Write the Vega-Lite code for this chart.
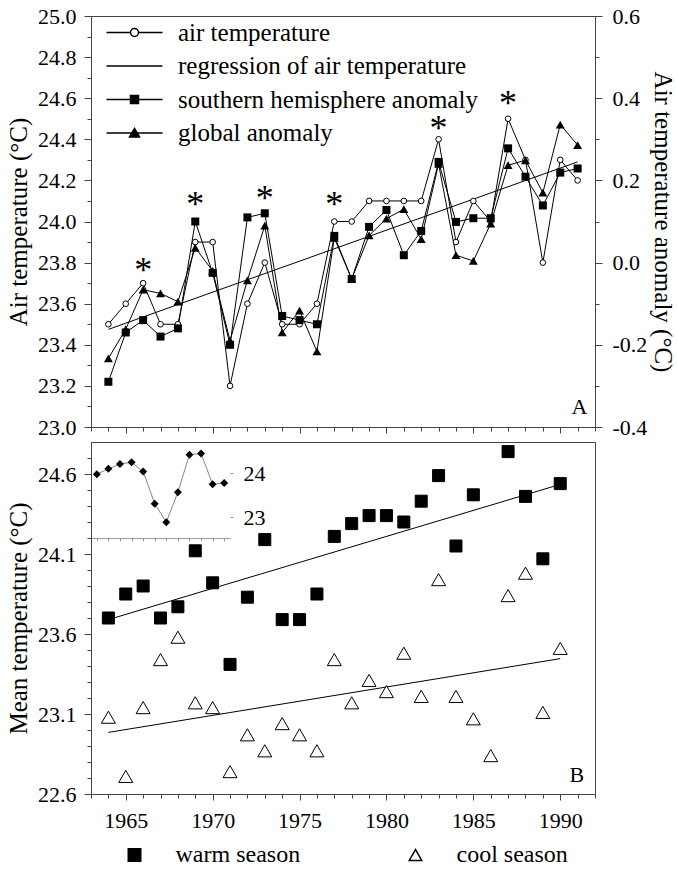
{
  "$schema": "https://vega.github.io/schema/vega-lite/v6.json",
  "background": "white",
  "padding": {"left": 6, "top": 4, "right": 0, "bottom": 4},
  "config": {
    "font": "Liberation Serif",
    "view": {"stroke": "#444", "strokeWidth": 1},
    "axis": {
      "labelFont": "Liberation Serif", "labelFontSize": 22, "labelColor": "black",
      "titleFont": "Liberation Serif", "titleFontSize": 25, "titleFontWeight": "normal", "titleColor": "black",
      "tickColor": "#444", "domainColor": "#444", "grid": false, "tickWidth": 1, "domainWidth": 1,
      "labelFlush": false, "labelOverlap": false
    },
    "legend": {"labelFont": "Liberation Serif", "labelColor": "black", "labelLimit": 400}
  },
  "datasets": {
    "top": [
      {"year": 1964, "air": 23.5, "sh": -0.29, "gl": -0.233},
      {"year": 1965, "air": 23.6, "sh": -0.17, "gl": -0.162},
      {"year": 1966, "air": 23.7, "sh": -0.14, "gl": -0.066},
      {"year": 1967, "air": 23.5, "sh": -0.18, "gl": -0.075},
      {"year": 1968, "air": 23.5, "sh": -0.16, "gl": -0.095},
      {"year": 1969, "air": 23.9, "sh": 0.10, "gl": 0.036},
      {"year": 1970, "air": 23.9, "sh": -0.025, "gl": -0.02},
      {"year": 1971, "air": 23.2, "sh": -0.20, "gl": -0.19},
      {"year": 1972, "air": 23.6, "sh": 0.11, "gl": -0.043},
      {"year": 1973, "air": 23.8, "sh": 0.12, "gl": 0.09},
      {"year": 1974, "air": 23.5, "sh": -0.13, "gl": -0.17},
      {"year": 1975, "air": 23.5, "sh": -0.14, "gl": -0.117},
      {"year": 1976, "air": 23.6, "sh": -0.15, "gl": -0.216},
      {"year": 1977, "air": 24.0, "sh": 0.065, "gl": 0.06},
      {"year": 1978, "air": 24.0, "sh": -0.04, "gl": -0.04},
      {"year": 1979, "air": 24.1, "sh": 0.087, "gl": 0.066},
      {"year": 1980, "air": 24.1, "sh": 0.128, "gl": 0.107},
      {"year": 1981, "air": 24.1, "sh": 0.018, "gl": 0.13},
      {"year": 1982, "air": 24.1, "sh": 0.077, "gl": 0.057},
      {"year": 1983, "air": 24.4, "sh": 0.245, "gl": 0.24},
      {"year": 1984, "air": 23.9, "sh": 0.099, "gl": 0.018},
      {"year": 1985, "air": 24.1, "sh": 0.108, "gl": 0.004},
      {"year": 1986, "air": 24.0, "sh": 0.108, "gl": 0.095},
      {"year": 1987, "air": 24.5, "sh": 0.278, "gl": 0.237},
      {"year": 1988, "air": 24.3, "sh": 0.209, "gl": 0.249},
      {"year": 1989, "air": 23.8, "sh": 0.139, "gl": 0.17},
      {"year": 1990, "air": 24.3, "sh": 0.219, "gl": 0.336},
      {"year": 1991, "air": 24.2, "sh": 0.229, "gl": 0.286}
    ],
    "reg": [{"year": 1964, "air": 23.475}, {"year": 1991, "air": 24.29}],
    "stars": [
      {"year": 1966, "y": 23.79}, {"year": 1969, "y": 24.11}, {"year": 1973, "y": 24.14},
      {"year": 1977, "y": 24.11}, {"year": 1983, "y": 24.48}, {"year": 1987, "y": 24.6}
    ],
    "legendA": [
      {"series": "air temperature"}, {"series": "regression of air temperature"},
      {"series": "southern hemisphere anomaly"}, {"series": "global anomaly"}
    ],
    "season": [
      {"year": 1964, "season": "warm season", "temp": 23.70}, {"year": 1965, "season": "warm season", "temp": 23.85},
      {"year": 1966, "season": "warm season", "temp": 23.90}, {"year": 1967, "season": "warm season", "temp": 23.70},
      {"year": 1968, "season": "warm season", "temp": 23.77}, {"year": 1969, "season": "warm season", "temp": 24.12},
      {"year": 1970, "season": "warm season", "temp": 23.92}, {"year": 1971, "season": "warm season", "temp": 23.41},
      {"year": 1972, "season": "warm season", "temp": 23.83}, {"year": 1973, "season": "warm season", "temp": 24.19},
      {"year": 1974, "season": "warm season", "temp": 23.69}, {"year": 1975, "season": "warm season", "temp": 23.69},
      {"year": 1976, "season": "warm season", "temp": 23.85}, {"year": 1977, "season": "warm season", "temp": 24.21},
      {"year": 1978, "season": "warm season", "temp": 24.29}, {"year": 1979, "season": "warm season", "temp": 24.34},
      {"year": 1980, "season": "warm season", "temp": 24.34}, {"year": 1981, "season": "warm season", "temp": 24.30},
      {"year": 1982, "season": "warm season", "temp": 24.43}, {"year": 1983, "season": "warm season", "temp": 24.59},
      {"year": 1984, "season": "warm season", "temp": 24.15}, {"year": 1985, "season": "warm season", "temp": 24.47},
      {"year": 1987, "season": "warm season", "temp": 24.74}, {"year": 1988, "season": "warm season", "temp": 24.46},
      {"year": 1989, "season": "warm season", "temp": 24.07}, {"year": 1990, "season": "warm season", "temp": 24.54},
      {"year": 1964, "season": "cool season", "temp": 23.08}, {"year": 1965, "season": "cool season", "temp": 22.71},
      {"year": 1966, "season": "cool season", "temp": 23.14}, {"year": 1967, "season": "cool season", "temp": 23.44},
      {"year": 1968, "season": "cool season", "temp": 23.58}, {"year": 1969, "season": "cool season", "temp": 23.17},
      {"year": 1970, "season": "cool season", "temp": 23.14}, {"year": 1971, "season": "cool season", "temp": 22.74},
      {"year": 1972, "season": "cool season", "temp": 22.97}, {"year": 1973, "season": "cool season", "temp": 22.87},
      {"year": 1974, "season": "cool season", "temp": 23.04}, {"year": 1975, "season": "cool season", "temp": 22.97},
      {"year": 1976, "season": "cool season", "temp": 22.87}, {"year": 1977, "season": "cool season", "temp": 23.44},
      {"year": 1978, "season": "cool season", "temp": 23.17}, {"year": 1979, "season": "cool season", "temp": 23.31},
      {"year": 1980, "season": "cool season", "temp": 23.24}, {"year": 1981, "season": "cool season", "temp": 23.48},
      {"year": 1982, "season": "cool season", "temp": 23.21}, {"year": 1983, "season": "cool season", "temp": 23.94},
      {"year": 1984, "season": "cool season", "temp": 23.21}, {"year": 1985, "season": "cool season", "temp": 23.07},
      {"year": 1986, "season": "cool season", "temp": 22.84}, {"year": 1987, "season": "cool season", "temp": 23.84},
      {"year": 1988, "season": "cool season", "temp": 23.98}, {"year": 1989, "season": "cool season", "temp": 23.11},
      {"year": 1990, "season": "cool season", "temp": 23.51}
    ],
    "sreg": [
      {"year": 1964, "season": "warm season", "temp": 23.69}, {"year": 1990, "season": "warm season", "temp": 24.535},
      {"year": 1964, "season": "cool season", "temp": 22.985}, {"year": 1990, "season": "cool season", "temp": 23.446}
    ],
    "inset": [
      {"m": 1, "v": 23.98}, {"m": 2, "v": 24.10}, {"m": 3, "v": 24.21}, {"m": 4, "v": 24.25},
      {"m": 5, "v": 24.04}, {"m": 6, "v": 23.31}, {"m": 7, "v": 22.89}, {"m": 8, "v": 23.57},
      {"m": 9, "v": 24.42}, {"m": 10, "v": 24.45}, {"m": 11, "v": 23.75}, {"m": 12, "v": 23.78}
    ]
  },
  "bounds": "flush",
  "spacing": 15,
  "resolve": {
    "scale": {"shape": "independent", "fill": "independent", "size": "independent"},
    "legend": {"shape": "independent", "fill": "independent"}
  },
  "vconcat": [
    {
      "width": 504,
      "height": 411,
      "resolve": {"scale": {"x": "independent", "y": "independent"}},
      "layer": [
        {
          "data": {"name": "reg"},
          "mark": {"type": "line", "color": "black", "strokeWidth": 1},
          "encoding": {
            "x": {"field": "year", "type": "quantitative", "scale": {"domain": [1963, 1992], "nice": false, "zero": false}, "axis": null},
            "y": {"field": "air", "type": "quantitative", "scale": {"domain": [23, 25], "nice": false, "zero": false}, "axis": null}
          }
        },
        {
          "data": {"name": "top"},
          "mark": {"type": "line", "color": "black", "strokeWidth": 1},
          "encoding": {
            "x": {"field": "year", "type": "quantitative", "scale": {"domain": [1963, 1992], "nice": false, "zero": false},
              "axis": {"orient": "bottom", "values": [1965, 1970, 1975, 1980, 1985, 1990], "labels": false, "tickSize": 6, "title": null}},
            "y": {"field": "air", "type": "quantitative", "scale": {"domain": [23, 25], "nice": false, "zero": false},
              "axis": {"orient": "left", "values": [23, 23.2, 23.4, 23.6, 23.8, 24, 24.2, 24.4, 24.6, 24.8, 25], "format": ".1f", "tickSize": 7, "labelPadding": 8, "title": "Air temperature (°C)", "titlePadding": 6}}
          }
        },
        {
          "data": {"name": "top"},
          "mark": {"type": "line", "color": "black", "strokeWidth": 1},
          "encoding": {
            "x": {"field": "year", "type": "quantitative", "scale": {"domain": [1963, 1992], "nice": false, "zero": false}, "axis": null},
            "y": {"field": "sh", "type": "quantitative", "scale": {"domain": [-0.4, 0.6], "nice": false, "zero": false},
              "axis": {"orient": "right", "values": [-0.4, -0.2, 0, 0.2, 0.4, 0.6], "labelExpr": "datum.value < 0 ? '-' + format(-datum.value, '.1f') : format(datum.value, '.1f')", "tickSize": 7, "labelPadding": 10, "title": "Air temperature anomaly (°C)", "titlePadding": 3}}
          }
        },
        {
          "data": {"name": "top"},
          "mark": {"type": "line", "color": "black", "strokeWidth": 1},
          "encoding": {
            "x": {"field": "year", "type": "quantitative", "scale": {"domain": [1963, 1992], "nice": false, "zero": false}, "axis": null},
            "y": {"field": "gl", "type": "quantitative", "scale": {"domain": [-0.4, 0.6], "nice": false, "zero": false}, "axis": null}
          }
        },
        {
          "data": {"name": "top"},
          "mark": {"type": "point", "shape": "circle", "filled": true, "fill": "white", "stroke": "black", "strokeWidth": 1, "size": 32, "opacity": 1},
          "encoding": {
            "x": {"field": "year", "type": "quantitative", "scale": {"domain": [1963, 1992], "nice": false, "zero": false},
              "axis": {"orient": "bottom", "values": [1963, 1964, 1966, 1967, 1968, 1969, 1971, 1972, 1973, 1974, 1976, 1977, 1978, 1979, 1981, 1982, 1983, 1984, 1986, 1987, 1988, 1989, 1991, 1992], "labels": false, "domain": false, "tickSize": 4, "title": null}},
            "y": {"field": "air", "type": "quantitative", "scale": {"domain": [23, 25], "nice": false, "zero": false},
              "axis": {"orient": "left", "values": [23.1, 23.3, 23.5, 23.7, 23.9, 24.1, 24.3, 24.5, 24.7, 24.9], "labels": false, "domain": false, "tickSize": 4, "title": null}}
          }
        },
        {
          "data": {"name": "top"},
          "mark": {"type": "point", "shape": "square", "filled": true, "color": "black", "size": 64, "opacity": 1},
          "encoding": {
            "x": {"field": "year", "type": "quantitative", "scale": {"domain": [1963, 1992], "nice": false, "zero": false}, "axis": null},
            "y": {"field": "sh", "type": "quantitative", "scale": {"domain": [-0.4, 0.6], "nice": false, "zero": false},
              "axis": {"orient": "right", "values": [-0.3, -0.1, 0.1, 0.3, 0.5], "labels": false, "domain": false, "tickSize": 4, "title": null}}
          }
        },
        {
          "data": {"name": "top"},
          "mark": {"type": "point", "shape": "triangle-up", "filled": true, "color": "black", "size": 80, "opacity": 1},
          "encoding": {
            "x": {"field": "year", "type": "quantitative", "scale": {"domain": [1963, 1992], "nice": false, "zero": false}, "axis": null},
            "y": {"field": "gl", "type": "quantitative", "scale": {"domain": [-0.4, 0.6], "nice": false, "zero": false}, "axis": null}
          }
        },
        {
          "data": {"name": "stars"},
          "mark": {"type": "text", "text": "*", "font": "Liberation Serif", "fontSize": 36, "color": "black", "align": "center", "baseline": "alphabetic", "dy": 17},
          "encoding": {
            "x": {"field": "year", "type": "quantitative", "scale": {"domain": [1963, 1992], "nice": false, "zero": false}, "axis": null},
            "y": {"field": "y", "type": "quantitative", "scale": {"domain": [23, 25], "nice": false, "zero": false}, "axis": null}
          }
        },
        {
          "data": {"values": [{"label": "A"}]},
          "mark": {"type": "text", "font": "Liberation Serif", "fontSize": 22, "color": "black", "align": "center", "baseline": "alphabetic"},
          "encoding": {
            "text": {"field": "label"},
            "x": {"datum": 1991.1, "type": "quantitative", "scale": {"domain": [1963, 1992], "nice": false, "zero": false}, "axis": null},
            "y": {"datum": 23.063, "type": "quantitative", "scale": {"domain": [23, 25], "nice": false, "zero": false}, "axis": null}
          }
        },
        {
          "data": {"name": "legendA"},
          "transform": [{"filter": "false"}],
          "mark": {"type": "point", "filled": true, "stroke": "black", "strokeWidth": 1, "size": 4, "opacity": 1},
          "encoding": {
            "shape": {"field": "series", "type": "nominal",
              "scale": {"domain": ["air temperature", "regression of air temperature", "southern hemisphere anomaly", "global anomaly"],
                "range": ["M-28,0H-4M4,0H28M4,0A4,4,0,1,1,-4,0A4,4,0,1,1,4,0Z", "M-28,0H28", "M-28,0H28M-4,-4H4V4H-4Z", "M-28,0H28M0,-4.5L5,4H-5Z"]},
              "legend": {"orient": "none", "legendX": 31, "legendY": 4, "title": null, "symbolSize": 4, "labelFont": "Liberation Serif", "labelFontSize": 25, "labelOffset": 31, "rowPadding": 7.5, "direction": "vertical",
                "encode": {"symbols": {"update": {"stroke": {"value": "black"}, "strokeWidth": {"value": 1}, "opacity": {"value": 1}}}, "labels": {"update": {"font": {"value": "Liberation Serif"}}}}}},
            "fill": {"field": "series", "type": "nominal",
              "scale": {"domain": ["air temperature", "regression of air temperature", "southern hemisphere anomaly", "global anomaly"],
                "range": ["white", "black", "black", "black"]},
              "legend": {"orient": "none", "legendX": 31, "legendY": 4, "title": null, "symbolSize": 4, "labelFont": "Liberation Serif", "labelFontSize": 25, "labelOffset": 31, "rowPadding": 7.5, "direction": "vertical",
                "encode": {"symbols": {"update": {"stroke": {"value": "black"}, "strokeWidth": {"value": 1}, "opacity": {"value": 1}}}, "labels": {"update": {"font": {"value": "Liberation Serif"}}}}}}
          }
        }
      ]
    },
    {
      "width": 504,
      "height": 352,
      "resolve": {"scale": {"x": "independent", "y": "independent"}},
      "layer": [
        {
          "data": {"name": "sreg"},
          "mark": {"type": "line", "color": "black", "strokeWidth": 1},
          "encoding": {
            "detail": {"field": "season"},
            "x": {"field": "year", "type": "quantitative", "scale": {"domain": [1963, 1992], "nice": false, "zero": false},
              "axis": {"orient": "bottom", "values": [1965, 1970, 1975, 1980, 1985, 1990], "format": "d", "tickSize": 6, "labelPadding": 10, "title": null}},
            "y": {"field": "temp", "type": "quantitative", "scale": {"domain": [22.6, 24.8], "nice": false, "zero": false},
              "axis": {"orient": "left", "values": [22.6, 23.1, 23.6, 24.1, 24.6], "format": ".1f", "tickSize": 7, "labelPadding": 8, "title": "Mean temperature (°C)", "titlePadding": 6}}
          }
        },
        {
          "data": {"name": "season"},
          "mark": {"type": "point", "filled": true, "stroke": "black", "strokeWidth": 1, "opacity": 1},
          "encoding": {
            "x": {"field": "year", "type": "quantitative", "scale": {"domain": [1963, 1992], "nice": false, "zero": false},
              "axis": {"orient": "bottom", "values": [1963, 1964, 1966, 1967, 1968, 1969, 1971, 1972, 1973, 1974, 1976, 1977, 1978, 1979, 1981, 1982, 1983, 1984, 1986, 1987, 1988, 1989, 1991, 1992], "labels": false, "domain": false, "tickSize": 4, "title": null}},
            "y": {"field": "temp", "type": "quantitative", "scale": {"domain": [22.6, 24.8], "nice": false, "zero": false},
              "axis": {"orient": "left", "values": [22.7, 22.8, 22.9, 23.0, 23.2, 23.3, 23.4, 23.5, 23.7, 23.8, 23.9, 24.0, 24.2, 24.3, 24.4, 24.5, 24.7], "labels": false, "domain": false, "tickSize": 4, "title": null}},
            "shape": {"field": "season", "type": "nominal", "scale": {"domain": ["warm season", "cool season"], "range": ["square", "triangle-up"]},
              "legend": {"orient": "none", "legendX": 31.5, "legendY": 401, "direction": "horizontal", "columns": 2, "title": null, "symbolSize": 156, "labelFont": "Liberation Serif", "labelFontSize": 24, "labelOffset": 29, "columnPadding": 103,
                "encode": {"symbols": {"update": {"stroke": {"value": "black"}, "strokeWidth": {"value": 1}, "opacity": {"value": 1}}}, "labels": {"update": {"font": {"value": "Liberation Serif"}}}}}},
            "fill": {"field": "season", "type": "nominal", "scale": {"domain": ["warm season", "cool season"], "range": ["black", "white"]},
              "legend": {"orient": "none", "legendX": 31.5, "legendY": 401, "direction": "horizontal", "columns": 2, "title": null, "symbolSize": 156, "labelFont": "Liberation Serif", "labelFontSize": 24, "labelOffset": 29, "columnPadding": 103,
                "encode": {"symbols": {"update": {"stroke": {"value": "black"}, "strokeWidth": {"value": 1}, "opacity": {"value": 1}}}, "labels": {"update": {"font": {"value": "Liberation Serif"}}}}}},
            "size": {"field": "season", "type": "nominal", "scale": {"domain": ["cool season", "warm season"], "range": [196, 144]}, "legend": null}
          }
        },
        {
          "data": {"name": "inset"},
          "mark": {"type": "line", "color": "#888", "strokeWidth": 1},
          "encoding": {
            "x": {"field": "m", "type": "quantitative", "scale": {"domain": [0.5, 12.5], "range": [0, 139], "nice": false, "zero": false},
              "axis": {"orient": "bottom", "offset": -256, "values": [1, 2, 3, 4, 5, 6, 7, 8, 9, 10, 11, 12], "labels": false, "tickSize": 3, "domainColor": "#999", "tickColor": "#999", "title": null}},
            "y": {"field": "v", "type": "quantitative", "scale": {"domain": [22.53, 24.71], "range": [96, 0], "nice": false, "zero": false},
              "axis": {"orient": "right", "offset": -365, "values": [23, 24], "format": "d", "tickSize": 3, "domain": false, "tickColor": "#999", "labelPadding": 10, "title": null}}
          }
        },
        {
          "data": {"name": "inset"},
          "mark": {"type": "point", "shape": "diamond", "filled": true, "color": "black", "size": 64, "opacity": 1},
          "encoding": {
            "x": {"field": "m", "type": "quantitative", "scale": {"domain": [0.5, 12.5], "range": [0, 139], "nice": false, "zero": false}, "axis": null},
            "y": {"field": "v", "type": "quantitative", "scale": {"domain": [22.53, 24.71], "range": [96, 0], "nice": false, "zero": false}, "axis": null}
          }
        },
        {
          "data": {"values": [{"label": "B"}]},
          "mark": {"type": "text", "font": "Liberation Serif", "fontSize": 22, "color": "black", "align": "center", "baseline": "alphabetic"},
          "encoding": {
            "text": {"field": "label"},
            "x": {"datum": 1990.96, "type": "quantitative", "scale": {"domain": [1963, 1992], "nice": false, "zero": false}, "axis": null},
            "y": {"datum": 22.675, "type": "quantitative", "scale": {"domain": [22.6, 24.8], "nice": false, "zero": false}, "axis": null}
          }
        }
      ]
    }
  ]
}
